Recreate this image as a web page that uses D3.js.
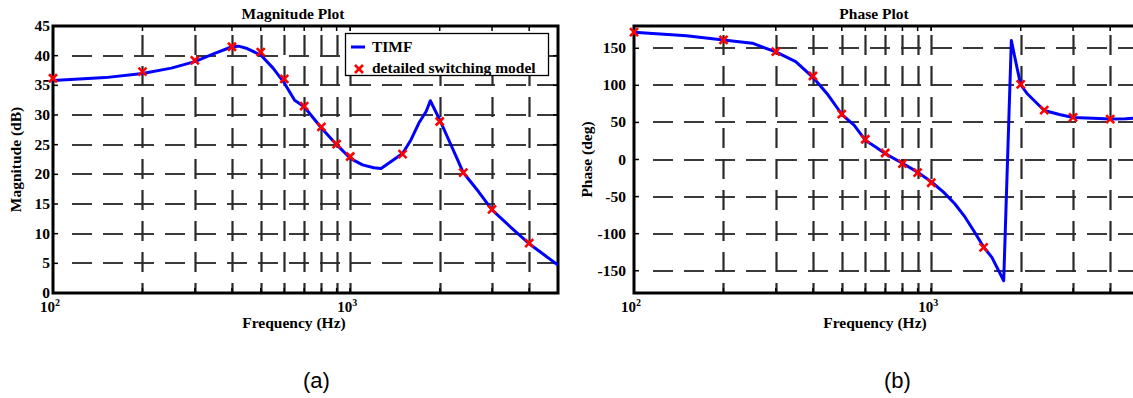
<!DOCTYPE html>
<html>
<head>
<meta charset="utf-8">
<script src="https://cdn.jsdelivr.net/npm/d3@7"></script>
<style>
  body { margin: 0; background: #fff; }
  svg { display: block; }
  .serif { font-family: "Liberation Serif", "Times New Roman", Tinos, "DejaVu Serif", serif; font-weight: bold; }
</style>
</head>
<body>
<svg width="1133" height="398"></svg>
<script>
// frequency ticks (Hz)
const decadeTicks = [100, 1000];
const minorTicks = [200, 300, 400, 500, 600, 700, 800, 900, 1000, 2000, 3000, 4000];

// magnitude plot data
const magTicks = [0, 5, 10, 15, 20, 25, 30, 35, 40, 45];
const magCurveF = [100, 150, 200, 250, 300, 350, 400, 421, 450, 500, 550, 600, 650, 700, 800, 900, 1000, 1100, 1200, 1270, 1500, 1600, 1700, 1800, 1860, 2000, 2300, 2400, 2700, 3000, 3500, 4000, 4500, 5000];
const magCurveDb = [35.8, 36.3, 37.0, 37.9, 39.0, 40.4, 41.5, 41.6, 41.2, 40.1, 37.9, 35.4, 32.5, 31.4, 27.8, 25.0, 22.7, 21.6, 21.1, 21.0, 23.5, 25.8, 28.6, 30.6, 32.4, 29.2, 22.4, 20.3, 17.1, 14.0, 10.9, 8.3, 6.4, 4.7];
const magMarkF = [100, 200, 300, 400, 500, 600, 700, 800, 900, 1000, 1500, 2000, 2400, 3000, 4000];
const magMarkDb = [36.2, 37.3, 39.2, 41.5, 40.6, 36.1, 31.5, 28.0, 25.1, 23.0, 23.4, 28.9, 20.3, 14.1, 8.4];

// phase plot data
const phTicks = [-150, -100, -50, 0, 50, 100, 150];
const phCurveF = [100, 150, 200, 250, 300, 350, 400, 450, 500, 550, 600, 650, 700, 800, 900, 1000, 1100, 1200, 1300, 1400, 1500, 1600, 1753, 1860, 1945, 2000, 2100, 2400, 2700, 3000, 3500, 4000, 4500, 5000];
const phCurveDeg = [171.5, 166.7, 161, 156.8, 145, 132, 110.8, 86.9, 61, 46.3, 26, 16.9, 8, -5, -17, -30, -44, -59.7, -77.8, -98, -118, -132, -163.5, 160.4, 123, 101, 89, 66, 60.7, 56.7, 55.5, 54.5, 55, 56];
const phMarkF = [100, 200, 300, 400, 500, 600, 700, 800, 900, 1000, 1500, 2000, 2400, 3000, 4000];
const phMarkDeg = [171.7, 161.3, 145.5, 112.6, 61.2, 27.3, 8.8, -5.6, -17.8, -31.3, -118.4, 101.3, 66.6, 56.7, 54.4];

const svg = d3.select("svg");
svg.append("rect").attr("width", 1133).attr("height", 398).attr("fill", "#fff");

function panel(opt) {
  let x = d3.scaleLog().domain([100, 5000]).range([opt.left, opt.left + 505]);
  let y = d3.scaleLinear().domain(opt.yDomain).range([293, 26]);
  let x1 = Math.min(x.range()[1], 1140);

  let g = svg.append("g");
  let clipId = "clip" + opt.id;
  g.append("clipPath").attr("id", clipId)
    .append("rect").attr("x", opt.left).attr("y", 26)
    .attr("width", 505).attr("height", 267);

  // grid (dashed)
  let grid = g.append("g");
  grid.selectAll(".hg")
    .data(opt.yTicks.filter((t) => y(t) > 28 && y(t) < 291))
    .enter().append("line")
    .attr("x1", opt.left + 8).attr("x2", x1)
    .attr("y1", (d) => Math.round(y(d))).attr("y2", (d) => Math.round(y(d)))
    .attr("stroke", "#3a3a3a").attr("stroke-width", 2)
    .attr("stroke-dasharray", "20,11")
    .attr("stroke-dashoffset", -11);
  grid.selectAll(".vg")
    .data(minorTicks)
    .enter().append("line")
    .attr("x1", (d) => Math.round(x(d)) + 0.5).attr("x2", (d) => Math.round(x(d)) + 0.5)
    .attr("y1", 26).attr("y2", 293)
    .attr("stroke", "#2a2a2a").attr("stroke-width", 2.2)
    .attr("stroke-dasharray", "20,11")
    .attr("stroke-dashoffset", opt.vOffset);

  // tick marks
  let ticks = g.append("g").attr("stroke", "#000").attr("stroke-width", 1.5);
  opt.yTicks.forEach((t) => {
    ticks.append("line").attr("x1", opt.left).attr("x2", opt.left + 5)
      .attr("y1", y(t)).attr("y2", y(t));
    ticks.append("line").attr("x1", opt.left + 505).attr("x2", opt.left + 500)
      .attr("y1", y(t)).attr("y2", y(t));
  });
  minorTicks.concat(decadeTicks).forEach((t) => {
    ticks.append("line").attr("x1", x(t)).attr("x2", x(t)).attr("y1", 293).attr("y2", 288);
    ticks.append("line").attr("x1", x(t)).attr("x2", x(t)).attr("y1", 26).attr("y2", 31);
  });

  // box
  g.append("rect").attr("x", opt.left).attr("y", 26)
    .attr("width", 505).attr("height", 267)
    .attr("fill", "none").attr("stroke", "#000").attr("stroke-width", 3);

  // y tick labels
  g.selectAll(".yl").data(opt.yTicks).enter().append("text")
    .attr("class", "serif")
    .attr("x", opt.left + opt.labelGap).attr("y", (d) => y(d) + 5)
    .attr("text-anchor", "end").attr("font-size", 15.5)
    .text((d) => d);

  // x tick labels 10^n
  decadeTicks.forEach((t) => {
    let tx = g.append("text").attr("class", "serif")
      .attr("x", x(t) - 3).attr("y", 312)
      .attr("text-anchor", "middle").attr("font-size", 15);
    tx.append("tspan").text("10");
    tx.append("tspan").attr("dy", -6).attr("font-size", 10).text(Math.round(Math.log10(t)));
  });

  // titles
  g.append("text").attr("class", "serif").attr("x", opt.left + 240).attr("y", 19)
    .attr("text-anchor", "middle").attr("font-size", 15.5)
    .text(opt.title);
  g.append("text").attr("class", "serif").attr("x", opt.left + 241).attr("y", 328)
    .attr("text-anchor", "middle").attr("font-size", 15.5)
    .text("Frequency (Hz)");
  g.append("text").attr("class", "serif")
    .attr("transform", "translate(" + opt.ylabelX + ",159.5) rotate(-90)")
    .attr("text-anchor", "middle").attr("font-size", 15.5)
    .text(opt.ylabel);

  // curve
  let plot = g.append("g").attr("clip-path", "url(#" + clipId + ")");
  let line = d3.line().x((d) => x(d[0])).y((d) => y(d[1]));
  plot.append("path")
    .datum(d3.zip(opt.curveF, opt.curveV))
    .attr("d", line)
    .attr("fill", "none").attr("stroke", "#0000ff")
    .attr("stroke-width", 3).attr("stroke-linejoin", "round");

  // markers
  let mk = g.append("g").attr("stroke", "#ff0000").attr("stroke-width", 2.6);
  d3.zip(opt.markF, opt.markV).forEach((d) => {
    let cx = x(d[0]), cy = y(d[1]), r = 4;
    mk.append("path").attr("d", `M${cx - r},${cy - r}L${cx + r},${cy + r}M${cx - r},${cy + r}L${cx + r},${cy - r}`);
  });

  // bottom caption
  svg.append("text").attr("x", opt.left + 263.5).attr("y", 388)
    .attr("text-anchor", "middle")
    .style("font-family", "'Liberation Sans', Arial, sans-serif").attr("font-size", 22)
    .text(opt.caption);

  return { x: x, y: y };
}

panel({
  id: "a", left: 53, yDomain: [0, 45], yTicks: magTicks, labelGap: -3,
  title: "Magnitude Plot", ylabel: "Magnitude (dB)", ylabelX: 20.5,
  curveF: magCurveF, curveV: magCurveDb, markF: magMarkF, markV: magMarkDb,
  caption: "(a)", vOffset: -9
});
panel({
  id: "b", left: 634, yDomain: [-180, 180], yTicks: phTicks, labelGap: -8,
  title: "Phase Plot", ylabel: "Phase (deg)", ylabelX: 592,
  curveF: phCurveF, curveV: phCurveDeg, markF: phMarkF, markV: phMarkDeg,
  caption: "(b)", vOffset: -9
});

// legend (magnitude plot)
let lg = svg.append("g");
lg.append("rect").attr("x", 345.5).attr("y", 33.5).attr("width", 203).attr("height", 42)
  .attr("fill", "#fff").attr("stroke", "#000").attr("stroke-width", 1.3);
lg.append("line").attr("x1", 351).attr("x2", 365).attr("y1", 47).attr("y2", 47)
  .attr("stroke", "#0000ff").attr("stroke-width", 3);
lg.append("text").attr("class", "serif").attr("x", 372).attr("y", 52)
  .attr("font-size", 15.5).text("TIMF");
lg.append("path").attr("d", "M355,65L363,73M355,73L363,65")
  .attr("stroke", "#ff0000").attr("stroke-width", 2.6);
lg.append("text").attr("class", "serif").attr("x", 372).attr("y", 73)
  .attr("font-size", 15.5).text("detailed switching model");
</script>
</body>
</html>
